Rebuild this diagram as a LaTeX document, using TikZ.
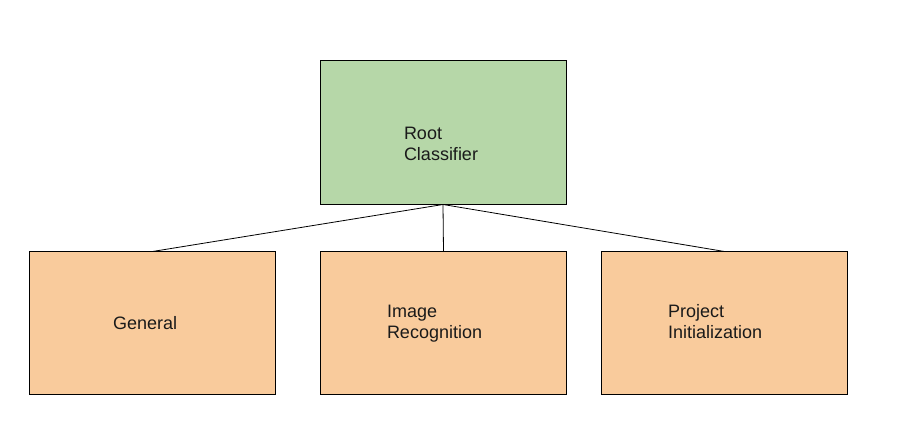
\documentclass[tikz,border=0pt]{standalone}
\usepackage{fontspec}
\setmainfont{Liberation Sans}
\definecolor{rootgreen}{HTML}{B6D7A8}
\definecolor{leaforange}{HTML}{F9CB9C}
\definecolor{txt}{HTML}{1A1A1A}
\begin{document}
\begin{tikzpicture}[x=1pt,y=-1pt,
  box/.style={draw=black,line width=0.9pt,minimum width=246pt,minimum height=143pt,inner sep=0pt,outer sep=0pt,anchor=north west},
  lbl/.style={inner sep=0pt,outer sep=0pt,anchor=base west,align=left,text=txt,font=\fontsize{18pt}{21.5pt}\selectfont},
  link/.style={draw=black,line width=0.8pt}]
\fill[white] (0,0) rectangle (906,435);
\useasboundingbox (0,0) rectangle (906,435);
\node[box,fill=rootgreen,minimum height=144pt] (root) at (320,60.5) {};
\node[box,fill=leaforange] (general) at (29.5,251.5) {};
\node[box,fill=leaforange] (image) at (320.5,251.5) {};
\node[box,fill=leaforange] (project) at (601.5,251.5) {};
\draw[link] (root.south) -- (general.north);
\draw[link] (root.south) -- (image.north);
\draw[link] (root.south) -- (project.north);
\node[lbl] (roottxt) at (404,161) {Root\\Classifier};
\node[lbl] (generaltxt) at (113,329.5) {General};
\node[lbl] (imagetxt) at (387,339) {Image\\Recognition};
\node[lbl] (projecttxt) at (668,339) {Project\\Initialization};
\end{tikzpicture}
\end{document}
